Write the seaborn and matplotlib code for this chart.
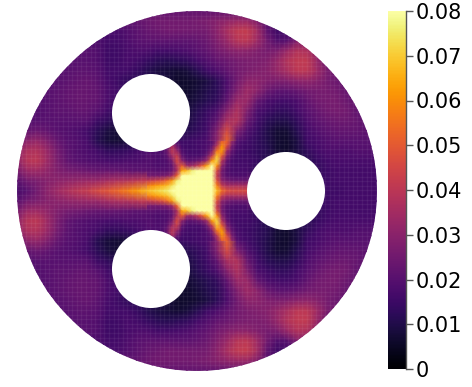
"""
Intensity on a disc with three holes
"""

import numpy as np

import matplotlib
matplotlib.use("Agg")

import matplotlib.pyplot as plt
import seaborn as sns

from matplotlib.patches import Circle

##########################################################
# Data (units of 0.001)
##########################################################

# whole disc, one row every 10 px
disc_rows = [
    [22]*37,
    [22]*13 + [24,25,25,25,25,26,27,29,31,33,33,28] + [20]*12,
    [17]*10 + [17,19,21,23,24,25,25,25,25,26,30,36,41,42,35,22,15,16] + [18]*9,
    [18]*8 + [18,16,16,18,20,21,21,21,21,21,22,24,28,33,39,40,34,25,19,20,28] + [28,24,22,22,22,22,22,22],
    [20]*7 + [20,19,15,15,17,18,18,16,16,17,18,20,22,25,28,30,30,28,26,27,33,38,37] + [30,24,22,22,22,22,22],
    [20]*6 + [20,20,19,15,15,17,16,14,12,11,12,13,16,19,22,24,26,27,27,28,32,38,41,41,33,24] + [22]*5,
    [20]*5 + [20,21,21,20,16,16,16,14,11,9,8,7,8,11,15,18,22,25,27,28,29,32,36,40,40,34,27,24] + [22]*4,
    [20]*4 + [20,21,22,23,21,17,15,13,12,11,10,8,6,6,7,9,12,18,25,30,30,28,27,28,30,31,29,26,24,22] + [22]*3,
    [20]*3 + [20,21,22,23,23,22,18,16,12,11,10,10,8,6,6,8,10,12,19,28,34,30,24,21,21,23,25,26,26,25,23] + [22]*3,
    [19,19,19,20,21,22,23,23,22,18,15,13,12,11,10,9,7,7,9,11,13,22,33,33,23,18,16,16,18,22,25,26,26,24,22,21,20],
    [19,19,19,20,21,21,22,22,20,16,14,13,12,11,10,10,8,8,11,14,18,29,37,28,18,15,13,13,16,20,23,25,26,25,22,20,20],
    [19,19,20,20,20,20,20,20,15,13,11,11,11,10,10,10,9,9,12,15,22,36,38,24,16,12,10,10,13,18,21,23,24,24,23,21,20],
    [20,22,24,22,20,19,18,16,12,9,7,7,8,10,10,10,10,11,13,16,28,46,28,19,14,10,7,7,11,16,19,21,22,22,22,21,20],
    [24,30,32,28,23,20,19,17,11,8,7,8,10,11,12,12,14,15,16,18,30,52,20,16,13,10,7,6,9,15,17,19,20,20,20,20,20],
    [30,37,38,33,26,21,19,18,16,13,13,14,16,18,18,22,30,16,16,19,55,34,17,15,13,11,7,6,9,13,16,18,18,18,19,19,19],
    [30,39,40,34,27,22,20,19,18,17,17,18,18,19,18,19,42,19,19,30,70,20,16,16,14,10,10,10,10,11,14,16,17,17,17,17,17],
    [26,33,34,31,28,26,25,24,23,23,23,22,21,21,20,20,30,52,68,85,44,19,17,17,12,12,12,12,12,12,13,15,16,16,16,16,16],
    [20,25,27,29,30,31,32,33,33,35,37,38,40,42,46,52,70,100,100,100,40,26,24,24,12,12,12,12,12,12,13,15,16,16,16,16,16],
    [17,20,25,30,34,37,40,42,46,49,53,57,62,68,72,76,88,100,100,100,60,46,46,46,30,12,12,12,12,12,13,15,15,16,16,16,16],
    [20,25,27,29,30,31,32,33,33,35,37,38,40,42,46,52,70,100,100,100,40,26,24,24,12,12,12,12,12,12,13,15,16,16,16,16,16],
    [26,33,34,31,28,26,25,24,23,23,23,22,21,21,20,20,30,52,68,85,44,19,17,17,12,12,12,12,12,12,13,15,16,16,16,16,16],
    [30,39,40,34,27,22,20,19,18,17,17,18,18,19,18,19,42,19,19,30,70,20,16,16,14,10,10,10,10,11,14,16,17,17,17,17,17],
    [30,37,38,33,26,21,19,18,16,13,13,14,16,18,18,22,30,16,16,19,55,34,17,15,13,11,7,6,9,13,16,18,18,18,19,19,19],
    [24,30,32,28,23,20,19,17,11,8,7,8,10,11,12,12,14,15,16,18,30,52,20,16,13,10,7,6,9,15,17,19,20,20,20,20,20],
    [20,22,24,22,20,19,18,16,12,9,7,7,8,10,10,10,10,11,13,16,28,46,28,19,14,10,7,7,11,16,19,21,22,22,22,21,20],
    [19,19,20,20,20,20,20,20,15,13,11,11,11,10,10,10,9,9,12,15,22,36,38,24,16,12,10,10,13,18,21,23,24,24,23,21,20],
    [19,19,19,20,21,21,22,22,20,16,14,13,12,11,10,10,8,8,11,14,18,29,37,28,18,15,13,13,16,20,23,25,26,25,22,20,20],
    [19,19,19,20,21,22,23,23,22,18,15,13,12,11,10,9,7,7,9,11,13,22,33,33,23,18,16,16,18,22,25,26,26,24,22,21,20],
    [20]*3 + [20,21,22,23,23,22,18,16,12,11,10,10,8,6,6,8,10,12,19,28,34,30,24,21,21,23,25,26,26,25,23] + [22]*3,
    [20]*4 + [20,21,22,23,21,17,15,13,12,11,10,8,6,6,7,9,12,18,25,30,30,28,27,28,30,31,29,26,24,22] + [22]*3,
    [20]*5 + [20,21,21,20,16,16,16,14,11,9,8,7,8,11,15,18,22,25,27,28,29,32,36,40,40,34,27,24] + [22]*4,
    [20]*6 + [20,20,19,15,15,17,16,14,12,11,12,13,16,19,22,24,26,27,27,28,32,38,41,41,33,24] + [22]*5,
    [20]*7 + [20,19,15,15,17,18,18,16,16,17,18,20,22,25,28,30,30,28,26,27,33,38,37] + [30,24,22,22,22,22,22],
    [18]*8 + [18,16,16,18,20,21,21,21,21,21,22,24,28,33,39,40,34,25,19,20,28] + [28,24,22,22,22,22,22,22],
    [17]*10 + [17,19,21,23,24,25,25,25,25,26,30,36,41,42,35,22,15,16] + [18]*9,
    [22]*13 + [24,25,25,25,25,26,27,29,31,33,33,28] + [20]*12,
    [22]*37,
]

# star in the middle, one row every 5 px
star_rows = [
    [12,12,12,12,14,18,16,15,15,15,16,16,18,19,30,50,52,32,20,17,16],
    [13,14,15,16,22,36,24,16,15,15,16,17,18,22,38,60,46,26,18,16,15],
    [18,18,18,18,24,40,32,18,16,16,16,17,19,28,55,62,34,22,17,16,15],
    [19,19,18,18,21,34,42,22,17,17,17,18,24,40,68,50,27,19,16,15,15],
    [19,19,18,18,19,26,46,30,21,21,23,26,34,62,72,38,22,17,16,16,16],
    [19,19,18,18,19,22,38,50,34,34,40,50,64,82,60,30,20,17,16,16,16],
    [21,21,20,20,20,24,36,64,68,76,88,95,100,88,46,25,19,17,17,17,17],
    [26,26,26,26,28,34,52,80,95,100,100,100,100,80,42,26,20,19,18,18,18],
    [42,44,46,48,54,62,76,95,100,100,100,100,100,85,48,30,26,24,24,24,24],
    [58,60,63,65,68,74,88,100,100,100,100,100,100,88,58,42,36,36,36,36,36],
    [68,70,72,74,76,82,92,100,100,100,100,100,100,92,68,54,48,46,46,46,46],
    [58,60,63,65,68,74,88,100,100,100,100,100,100,88,58,42,36,36,36,36,36],
    [42,44,46,48,54,62,76,95,100,100,100,100,100,85,48,30,26,24,24,24,24],
    [26,26,26,26,28,34,52,80,95,100,100,100,100,80,42,26,20,19,18,18,18],
    [21,21,20,20,20,24,36,64,68,76,88,95,100,88,46,25,19,17,17,17,17],
    [19,19,18,18,19,22,38,50,34,34,40,50,64,82,60,30,20,17,16,16,16],
    [19,19,18,18,19,26,46,30,21,21,23,26,34,62,72,38,22,17,16,16,16],
    [19,19,18,18,21,34,42,22,17,17,17,18,24,40,68,50,27,19,16,15,15],
    [18,18,18,18,24,40,32,18,16,16,16,17,19,28,55,62,34,22,17,16,15],
    [13,14,15,16,22,36,24,16,15,15,16,17,18,22,38,60,46,26,18,16,15],
    [12,12,12,12,14,18,16,15,15,15,16,16,18,19,30,50,52,32,20,17,16],
]

cbar_ticks = [0, 0.01, 0.02, 0.03, 0.04, 0.05, 0.06, 0.07, 0.08]
cbar_labels = ["0", "0.01", "0.02", "0.03", "0.04", "0.05", "0.06", "0.07", "0.08"]

##########################################################
# Figure
##########################################################

sns.set_style("white")
plt.rcParams["font.family"] = "DejaVu Sans"

W, H = 472, 387

fig = plt.figure(figsize=(W / 100, H / 100), dpi=100)


def px_axes(x0, y0, x1, y1):
    return fig.add_axes([x0 / W, (H - y1) / H, (x1 - x0) / W, (y1 - y0) / H])


ax = px_axes(17, 11, 377, 371)
cax = px_axes(388, 11, 406, 369)
star_ax = px_axes(147, 141, 247, 241)

##########################################################
# Heatmaps
##########################################################

sns.heatmap(
    np.array(disc_rows) / 1000,
    ax=ax,
    cbar_ax=cax,
    vmin=0,
    vmax=0.08,
    cmap="inferno",
    shading="gouraud",
    xticklabels=False,
    yticklabels=False,
    cbar_kws={"ticks": cbar_ticks}
)
ax.set_xlim(0, 36)
ax.set_ylim(36, 0)
ax.axis("off")
ax.collections[0].set_clip_path(Circle((18, 18), 18, transform=ax.transData))

sns.heatmap(
    np.array(star_rows) / 1000,
    ax=star_ax,
    cbar=False,
    vmin=0,
    vmax=0.08,
    cmap="inferno",
    shading="gouraud",
    xticklabels=False,
    yticklabels=False
)
star_ax.set_xlim(0, 20)
star_ax.set_ylim(20, 0)
star_ax.axis("off")

##########################################################
# Colorbar
##########################################################

cax.set_yticklabels(cbar_labels)
cax.tick_params(
    axis="y",
    length=5,
    width=1,
    color="#555555",
    labelcolor="black",
    labelsize=15,
    pad=2,
    right=True
)
cax.spines["right"].set_visible(True)
cax.spines["right"].set_color("#555555")
cax.spines["right"].set_linewidth(1)

##########################################################
# Faint mesh lines and the holes
##########################################################

top = fig.add_axes([0, 0, 1, 1])
top.set_xlim(0, W)
top.set_ylim(H, 0)
top.axis("off")

mesh_clip = Circle((197, 191), 180, transform=top.transData)
mesh_pos = np.arange(17, 378, 4.6)
vert = top.vlines(mesh_pos, 11, 371, color="white", alpha=0.055, linewidth=1)
horiz = top.hlines(mesh_pos - 6, 17, 377, color="white", alpha=0.055, linewidth=1)
vert.set_clip_path(mesh_clip)
horiz.set_clip_path(mesh_clip)

for hole_x, hole_y in [(151, 113), (151, 269), (286, 191)]:
    top.add_patch(Circle((hole_x, hole_y), 39, facecolor="white", edgecolor="none", zorder=5))

plt.savefig("out.png", dpi=100)
plt.close()
